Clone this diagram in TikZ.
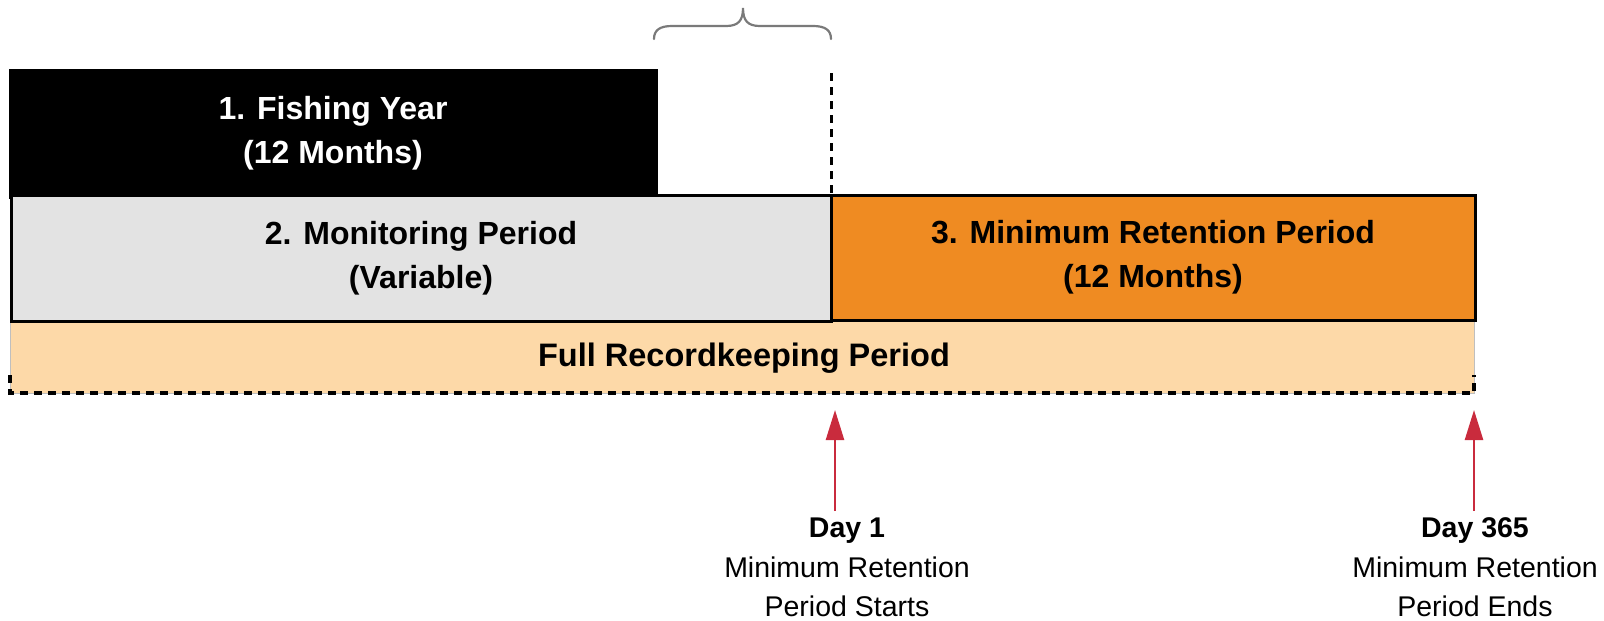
\documentclass[tikz,border=0pt]{standalone}
\usepackage{fontspec}
\setmainfont{Liberation Sans}
\usetikzlibrary{arrows.meta}

\definecolor{greybox}{HTML}{E3E3E3}
\definecolor{orangebox}{HTML}{EF8B22}
\definecolor{peach}{HTML}{FDD9A8}
\definecolor{arrowred}{HTML}{C92B3D}
\definecolor{bracegrey}{HTML}{7A7A7A}

\tikzset{
  period/.style={draw=black, line width=3pt, inner sep=0pt, outer sep=0pt,
    anchor=north west, align=center,
    font=\fontsize{32}{44}\selectfont\bfseries},
  dashline/.style={line width=3pt, dash pattern=on 8pt off 6pt},
  redarrow/.style={draw=arrowred, line width=2.5pt,
    -{Triangle[width=18pt,length=30pt]}},
  daylabel/.style={inner sep=0pt, outer ysep=7pt, anchor=north, align=center,
    font=\fontsize{28.5}{39.5}\selectfont},
}

\begin{document}
\begin{tikzpicture}[x=1pt, y=-1pt]
  \useasboundingbox (0,0) rectangle (1604,621);

  % full recordkeeping band underneath the periods
  \node[draw=black!25, line width=1pt, fill=peach, inner sep=0pt, outer sep=0pt,
        anchor=north west, minimum width=1464pt, minimum height=73pt] (rk) at (10,320) {};
  \draw[dashline, line width=3.5pt] ([yshift=18pt]rk.south west) -- (rk.south west)
        -- (rk.south east) -- ([yshift=18pt]rk.south east);
  \node[anchor=base, font=\fontsize{32.5}{44}\selectfont\bfseries] (rktext) at (744,366)
        {Full Recordkeeping Period};

  % the three periods
  \node[period, fill=black, text=white, minimum width=646pt, minimum height=127pt]
        (fish) at (10,70) {1. Fishing Year\\(12 Months)};
  \node[period, fill=greybox, minimum width=820pt, minimum height=126pt]
        (monitor) at (11,195) {2. Monitoring Period\\(Variable)};
  \node[period, fill=orangebox, minimum width=644pt, minimum height=125pt]
        (retain) at (831,195) {3. Minimum Retention Period\\(12 Months)};

  % dashed marker at the start of retention
  \coordinate (marktop) at (831,73);
  \draw[dashline] (marktop) -- (monitor.north east);

  % brace over the gap between fishing year and retention start
  \coordinate (braceL) at (654,39);
  \coordinate (braceR) at (831,39);
  \draw[bracegrey, line width=2.2pt, line cap=round]
    (braceL) .. controls (654,30) and (660,26) .. (672,26) -- (726,26)
    .. controls (738,26) and (743,21) .. (743,8)
    .. controls (743,21) and (748,26) .. (760,26) -- (813,26)
    .. controls (825,26) and (831,30) .. (braceR);

  % day markers
  \coordinate (d1tip) at (835,410);
  \coordinate (d365tip) at (1474,410);
  \node[daylabel] (day1) at (847,511)
        {\textbf{Day 1}\\Minimum Retention\\Period Starts};
  \node[daylabel] (day365) at (1475,511)
        {\textbf{Day 365}\\Minimum Retention\\Period Ends};
  \draw[redarrow] (day1.north -| d1tip) -- (d1tip);
  \draw[redarrow] (day365.north -| d365tip) -- (d365tip);
\end{tikzpicture}
\end{document}
